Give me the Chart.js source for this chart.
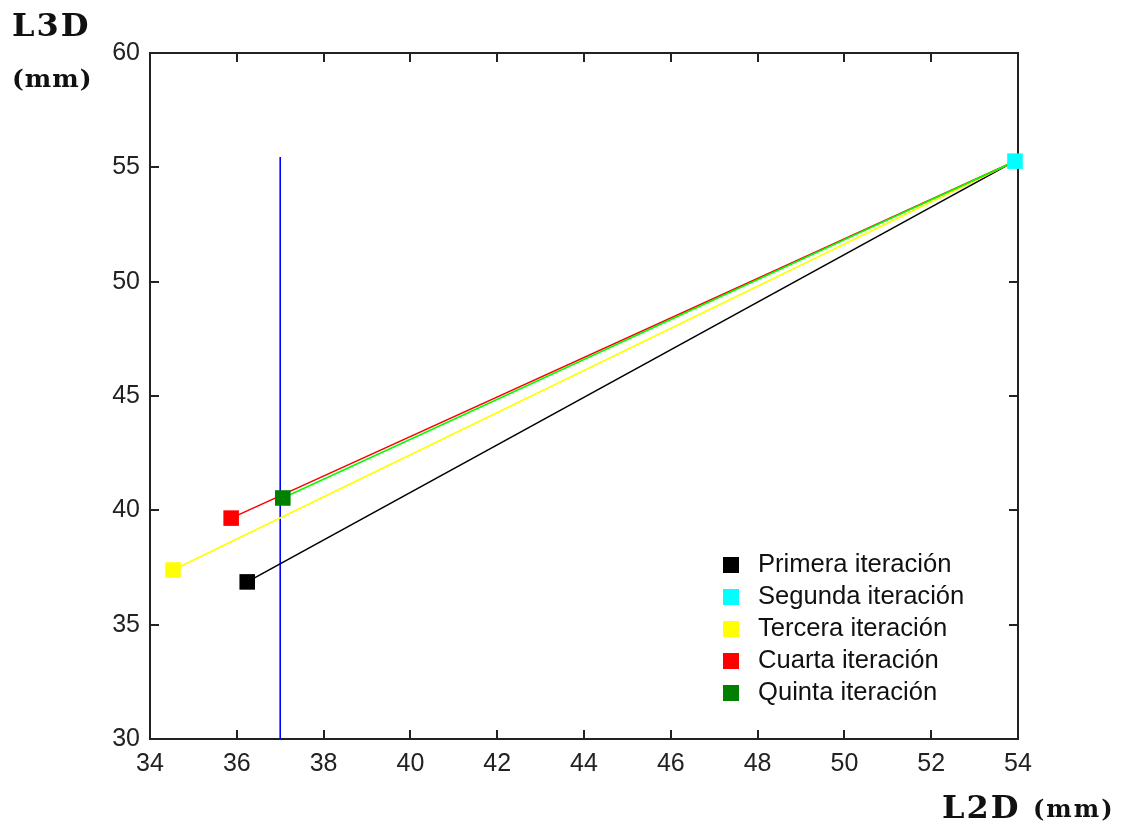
<!DOCTYPE html>
<html>
<head>
<meta charset="utf-8">
<script src="https://cdn.jsdelivr.net/npm/chart.js@4/dist/chart.umd.min.js"></script>
<style>
  body { margin: 0; background: #fff; }
  #wrap { position: relative; width: 1131px; height: 827px; }
  #chart { position: absolute; left: 0; top: 0; }
  .axt { position: absolute; font-family: "DejaVu Serif", serif; font-weight: bold; line-height: 1; color: #111; white-space: nowrap; }
</style>
</head>
<body>
<div id="wrap">
  <canvas id="chart" width="1131" height="827"></canvas>
  <div class="axt" style="left:12px; top:9px; font-size:32px; letter-spacing:2px;">L3D</div>
  <div class="axt" style="left:12px; top:66px; font-size:25px; letter-spacing:1px;">(mm)</div>
  <div class="axt" style="left:942px; top:791px; font-size:32px; letter-spacing:2px;">L2D</div>
  <div class="axt" style="left:1033px; top:797px; font-size:24px; letter-spacing:2px;">(mm)</div>
</div>
<script>
'use strict';

// series: each iteration's starting estimate, joined to the common end point
const labels = ['Primera iteración', 'Segunda iteración', 'Tercera iteración', 'Cuarta iteración', 'Quinta iteración'];
const markerColors = ['#000000', '#00ffff', '#ffff00', '#ff0000', '#008000'];
const lineColors = ['#000000', '#00ffff', '#ffff00', '#ff0000', '#00ff00'];
const startL2D = [36.24, 53.93, 34.53, 35.87, 37.06];
const startL3D = [36.87, 55.27, 37.39, 39.66, 40.54];
const endL2D = 53.93;
const endL3D = 55.27;

// blue vertical reference line
const refL2D = [37.0, 37.0];
const refL3D = [30, 55.45];

const xTicks = [34, 36, 38, 40, 42, 44, 46, 48, 50, 52, 54];
const yTicks = [30, 35, 40, 45, 50, 55, 60];

const tickFont = { family: '"Liberation Sans", Arial, sans-serif', size: 25 };

let datasets = [];
labels.forEach((lbl, i) => {
  let isEnd = (startL2D[i] === endL2D && startL3D[i] === endL3D);
  datasets.push({
    label: lbl,
    data: isEnd ? [{x: startL2D[i], y: startL3D[i]}]
                : [{x: startL2D[i], y: startL3D[i]}, {x: endL2D, y: endL3D}],
    showLine: !isEnd,
    borderColor: lineColors[i],
    borderWidth: 1.6,
    pointStyle: 'rect',
    pointRadius: isEnd ? [11] : [11, 0],
    pointBorderWidth: 0,
    pointBackgroundColor: markerColors[i],
    order: isEnd ? 0 : 10 - i,
    clip: false
  });
});
datasets.push({
  label: 'ref',
  data: refL2D.map((v, i) => ({x: v, y: refL3D[i]})),
  showLine: true,
  borderColor: '#0000ff',
  borderWidth: 1.6,
  pointRadius: 0,
  order: 20
});

// box with inward ticks on all four sides, like the original plot
const boxPlugin = {
  id: 'box',
  beforeDatasetsDraw(chart) {
    const ctx = chart.ctx;
    const a = chart.chartArea;
    const xs = chart.scales.x, ys = chart.scales.y;
    const tl = 9;
    ctx.save();
    ctx.strokeStyle = '#222';
    ctx.lineWidth = 2;
    ctx.strokeRect(a.left, a.top, a.right - a.left, a.bottom - a.top);
    ctx.beginPath();
    xTicks.forEach(v => {
      let px = Math.round(xs.getPixelForValue(v));
      ctx.moveTo(px, a.bottom); ctx.lineTo(px, a.bottom - tl);
      ctx.moveTo(px, a.top); ctx.lineTo(px, a.top + tl);
    });
    yTicks.forEach(v => {
      let py = Math.round(ys.getPixelForValue(v));
      ctx.moveTo(a.left, py); ctx.lineTo(a.left + tl, py);
      ctx.moveTo(a.right, py); ctx.lineTo(a.right - tl, py);
    });
    ctx.stroke();
    ctx.restore();
  }
};

// legend inside the plot, lower right
const legendPlugin = {
  id: 'innerLegend',
  afterDraw(chart) {
    const ctx = chart.ctx;
    const x0 = 731, y0 = 565, step = 32, side = 16;
    ctx.save();
    ctx.font = '25.6px "Liberation Sans", Arial, sans-serif';
    ctx.textBaseline = 'middle';
    labels.forEach((lbl, i) => {
      let y = y0 + i * step;
      ctx.fillStyle = markerColors[i];
      ctx.fillRect(x0 - side / 2, y - side / 2, side, side);
      ctx.fillStyle = '#111';
      ctx.fillText(lbl, 758, y);
    });
    ctx.restore();
  }
};

const chart = new Chart(document.getElementById('chart'), {
  type: 'scatter',
  data: { datasets: datasets },
  options: {
    responsive: false,
    animation: false,
    layout: { padding: { top: 53, right: 113, left: 0, bottom: 0 } },
    plugins: { legend: { display: false }, tooltip: { enabled: false } },
    scales: {
      x: {
        min: 34, max: 54,
        afterFit: s => { s.height = 88; },
        afterBuildTicks: s => { s.ticks = xTicks.map(v => ({value: v})); },
        grid: { display: false },
        border: { display: false },
        ticks: { font: tickFont, color: '#222', padding: 2, maxRotation: 0 }
      },
      y: {
        min: 30, max: 60,
        afterFit: s => { s.width = 150; },
        afterBuildTicks: s => { s.ticks = yTicks.map(v => ({value: v})); },
        grid: { display: false },
        border: { display: false },
        ticks: { font: tickFont, color: '#222', padding: 2 }
      }
    }
  },
  plugins: [boxPlugin, legendPlugin]
});
</script>
</body>
</html>
